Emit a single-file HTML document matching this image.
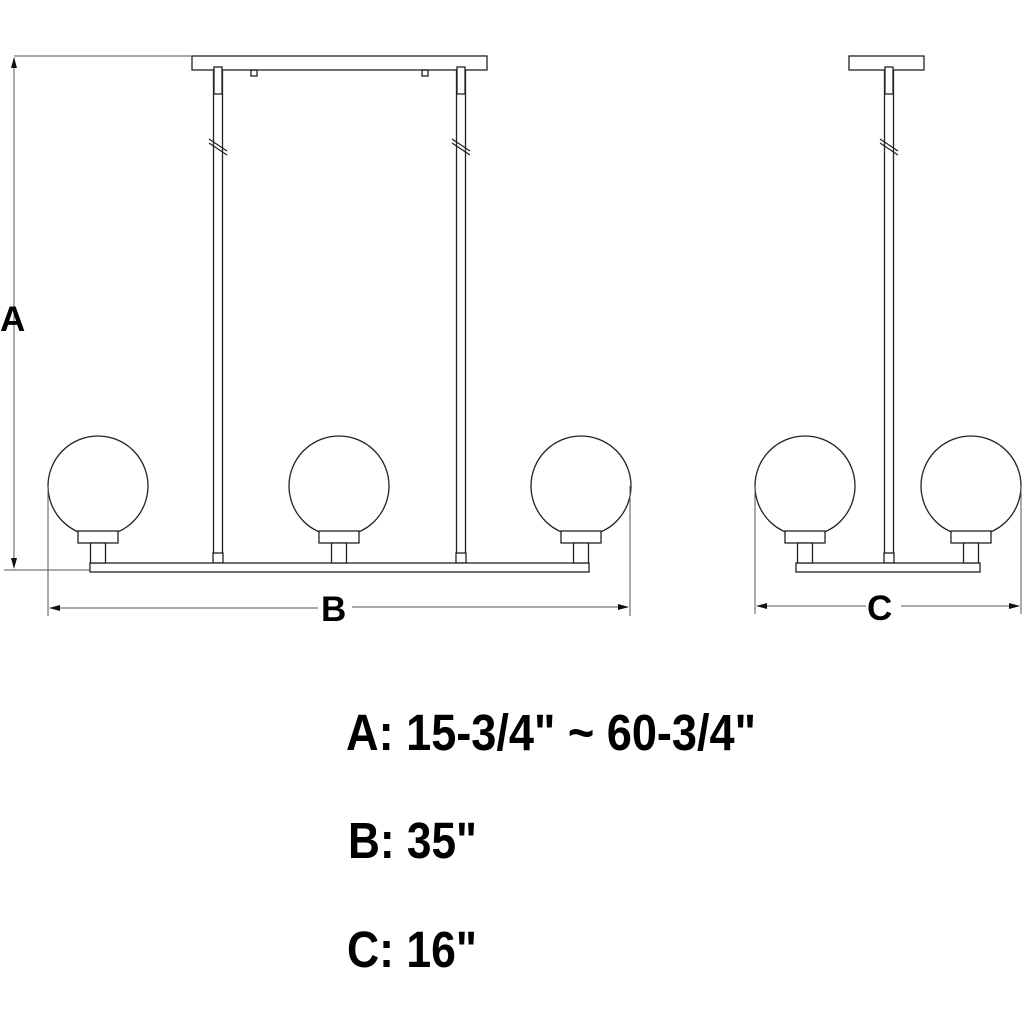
<!DOCTYPE html>
<html><head><style>html,body{margin:0;padding:0;background:#fff}svg{display:block}</style></head>
<body>
<svg width="1024" height="1024" viewBox="0 0 1024 1024" xmlns="http://www.w3.org/2000/svg">
<defs>
<g id="globe">
 <circle cx="0" cy="0" r="50" fill="#fff" stroke="#222" stroke-width="1.3"/>
 <rect x="-20" y="45" width="40" height="12" fill="#fff" stroke="#222" stroke-width="1.3"/>
 <rect x="-7.5" y="57" width="15" height="20" fill="#fff" stroke="#222" stroke-width="1.3"/>
</g>
<g id="rod">
 <rect x="-4.5" y="70" width="9" height="493" fill="#fff" stroke="#222" stroke-width="1.3"/>
 <rect x="-4" y="67" width="8" height="27" fill="#fff" stroke="#222" stroke-width="1.3"/>
 <rect x="-5" y="553" width="10" height="10" fill="#fff" stroke="#222" stroke-width="1.3"/>
 <line x1="-9" y1="139" x2="9" y2="151" stroke="#222" stroke-width="1.2"/>
 <line x1="-9" y1="143" x2="9" y2="155" stroke="#222" stroke-width="1.2"/>
</g>
</defs>
<g fill="none" stroke="#222" stroke-width="1.3">
 <rect x="192" y="56" width="295" height="14" fill="#fff"/>
 <rect x="251" y="70" width="6" height="6"/>
 <rect x="422" y="70" width="6" height="6"/>
 <use href="#rod" x="218"/>
 <use href="#rod" x="461"/>
 <rect x="90" y="563" width="499" height="9" fill="#fff"/>
 <use href="#globe" x="98" y="486"/>
 <use href="#globe" x="339" y="486"/>
 <use href="#globe" x="581" y="486"/>
 <rect x="849" y="56" width="75" height="14" fill="#fff"/>
 <use href="#rod" x="889"/>
 <rect x="796" y="563" width="184" height="9" fill="#fff"/>
 <use href="#globe" x="805" y="486"/>
 <use href="#globe" x="971" y="486"/>
</g>
<g stroke="#555" stroke-width="1" fill="none">
 <line x1="14" y1="56" x2="192" y2="56"/>
 <line x1="4" y1="570" x2="90" y2="570"/>
 <line x1="14" y1="58" x2="14" y2="568"/>
 <line x1="48" y1="486" x2="48" y2="616"/>
 <line x1="630" y1="486" x2="630" y2="616"/>
 <line x1="50" y1="608" x2="318" y2="608"/>
 <line x1="352" y1="607" x2="628" y2="607"/>
 <line x1="755" y1="486" x2="755" y2="614"/>
 <line x1="1021" y1="486" x2="1021" y2="614"/>
 <line x1="757" y1="606" x2="866" y2="606"/>
 <line x1="901" y1="606" x2="1019" y2="606"/>
</g>
<g fill="#111">
 <polygon points="14,57 11,68 17,68"/>
 <polygon points="14,569 11,558 17,558"/>
 <polygon points="49,608 60,605 60,611"/>
 <polygon points="629,607 618,604 618,610"/>
 <polygon points="756,606 767,603 767,609"/>
 <polygon points="1020,606 1009,603 1009,609"/>
</g>
<g font-family="Liberation Sans, Arial, sans-serif" font-weight="bold" fill="#000">
 <text x="0" y="331" font-size="35">A</text>
 <text x="321" y="621" font-size="35">B</text>
 <text x="867" y="620" font-size="35">C</text>
 <text x="346" y="750" font-size="51" textLength="410" lengthAdjust="spacingAndGlyphs">A: 15-3/4" ~ 60-3/4"</text>
 <text x="348" y="858" font-size="51" textLength="129" lengthAdjust="spacingAndGlyphs">B: 35"</text>
 <text x="347" y="967" font-size="51" textLength="130" lengthAdjust="spacingAndGlyphs">C: 16"</text>
</g>
</svg>
</body></html>
